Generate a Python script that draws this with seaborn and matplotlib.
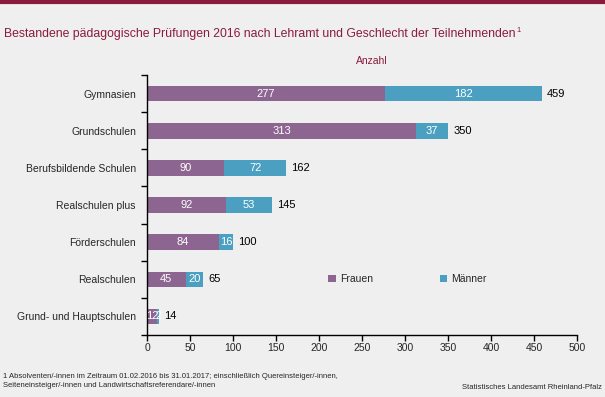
import numpy as np
import pandas as pd
import seaborn as sns
import matplotlib.pyplot as plt

# data
schulen = ["Gymnasien", "Grundschulen", "Berufsbildende Schulen", "Realschulen plus",
           "Förderschulen", "Realschulen", "Grund- und Hauptschulen"]
frauen = [277, 313, 90, 92, 84, 45, 12]
maenner = [182, 37, 72, 53, 16, 20, 2]
x_ticks = [0, 50, 100, 150, 200, 250, 300, 350, 400, 450, 500]

col_f = "#8C6590"
col_m = "#4B9FC1"
red = "#8B1A3C"
bg = "#EEEFEE"

df = pd.DataFrame({"Lehramt": schulen, "Frauen": frauen, "Männer": maenner})
df["Gesamt"] = df["Frauen"] + df["Männer"]

sns.set_style("white")
plt.rcParams["font.family"] = ["Liberation Sans", "DejaVu Sans"]

fig = plt.figure(figsize=(6.05, 3.97), dpi=100, facecolor=bg)
ax = fig.add_axes([0.243, 0.156, 0.711, 0.655], facecolor=bg)

#total bar in blue, women on top of it
sns.barplot(data=df, y="Lehramt", x="Gesamt", color=col_m, width=0.42,
            saturation=1, orient="h", ax=ax, label="Männer", linewidth=0)
sns.barplot(data=df, y="Lehramt", x="Frauen", color=col_f, width=0.42,
            saturation=1, orient="h", ax=ax, label="Frauen", linewidth=0)

for i, row in df.iterrows():
    ax.text(row["Frauen"] / 2, i, str(row["Frauen"]), color="white",
            ha="center", va="center", fontsize=8)
    ax.text(row["Frauen"] + row["Männer"] / 2, i, str(row["Männer"]), color="white",
            ha="center", va="center", fontsize=8)
    ax.text(row["Gesamt"] + 6, i, str(row["Gesamt"]), color="black",
            ha="left", va="center", fontsize=8)

ax.set_xlim(0, 500)
ax.set_ylim(6.5, -0.5)
ax.set_xticks(x_ticks)
ax.set_xlabel("")
ax.set_ylabel("")
ax.tick_params(axis="x", bottom=True, labelsize=7.5, length=4, width=1,
               direction="out", pad=2, color="black")
ax.tick_params(axis="y", which="major", left=False, labelsize=7.5, length=0, pad=8)
ax.set_yticks(np.arange(-0.5, 7, 1), minor=True)
ax.tick_params(axis="y", which="minor", left=True, length=4, width=1,
               direction="out", color="black")
for s in ["top", "right"]:
    ax.spines[s].set_visible(False)
for s in ["left", "bottom"]:
    ax.spines[s].set_color("black")
    ax.spines[s].set_linewidth(1)

handles, labels = ax.get_legend_handles_labels()
order = [labels.index("Frauen"), labels.index("Männer")]
ax.legend([handles[k] for k in order], [labels[k] for k in order],
          loc="upper left", bbox_to_anchor=(0.4, 0.27), ncol=2, frameon=False,
          fontsize=7.5, handlelength=0.7, handleheight=0.7, columnspacing=6.4,
          handletextpad=0.4)

fig.text(0.615, 0.838, "Anzahl", color=red, fontsize=7.5, ha="center")
title = fig.text(0.007, 0.915,
                 "Bestandene pädagogische Prüfungen 2016 nach Lehramt und Geschlecht der Teilnehmenden",
                 color=red, fontsize=8.8, ha="left", va="center")
fig.canvas.draw()
bb = title.get_window_extent()
fig.text(bb.x1 / fig.bbox.width + 0.002, 0.922, "1", color=red, fontsize=5.5,
         ha="left", va="center")
fig.add_artist(plt.Line2D([0, 1], [0.996, 0.996], color=red, lw=3))

fig.text(0.005, 0.04, "1 Absolventen/-innen im Zeitraum 01.02.2016 bis 31.01.2017; einschließlich Quereinsteiger/-innen,\n"
         "Seiteneinsteiger/-innen und Landwirtschaftsreferendare/-innen",
         fontsize=5.5, ha="left", va="center", linespacing=1.3)
fig.text(0.995, 0.025, "Statistisches Landesamt Rheinland-Pfalz", fontsize=5.5, ha="right", va="center")

fig.savefig("out.png", dpi=100, facecolor=bg)
